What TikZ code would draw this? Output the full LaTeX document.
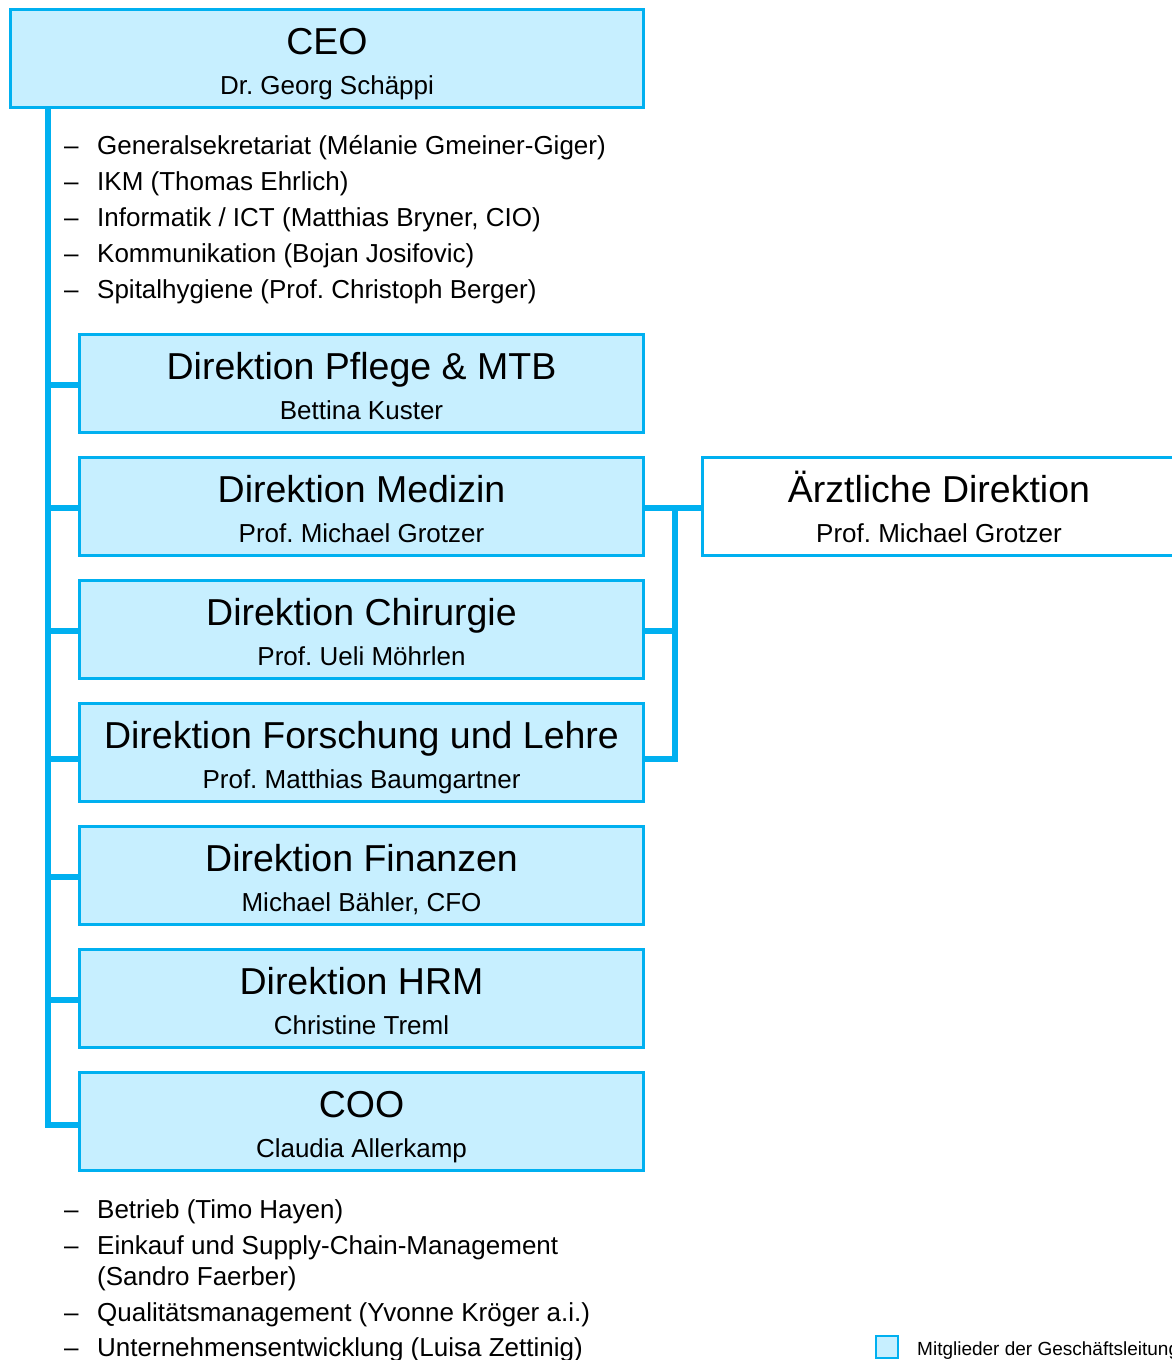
\documentclass[tikz,border=0pt]{standalone}
\usepackage{fontspec}
\setmainfont{Liberation Sans}
\frenchspacing
\definecolor{ksblue}{RGB}{0,176,240}
\definecolor{kslight}{RGB}{199,239,255}

\begin{document}
\begin{tikzpicture}[x=1pt,y=-1pt,
        glbox/.style={draw=ksblue,fill=kslight,line width=3.5pt,inner sep=0pt,minimum width=564pt,minimum height=98pt},
        conn/.style={draw=ksblue,line width=5.5pt},
        titletext/.style={anchor=base,inner sep=0pt,font=\fontsize{37.5}{45}\selectfont},
        nametext/.style={anchor=base,inner sep=0pt,font=\fontsize{26}{31}\selectfont},
        itemtext/.style={anchor=base west,inner sep=0pt,font=\fontsize{26}{31}\selectfont}]
    \useasboundingbox (0,0) rectangle (1171,1360);

    % CEO
    \node[glbox,minimum width=633pt] (ceo) at (327,58.5) {};
    \node[titletext] (ceo-t) at (327,54) {CEO};
    \node[nametext] (ceo-p) at (327,94) {Dr. Georg Schäppi};

    % Stabsstellen
    \foreach \t [count=\i] in {Generalsekretariat (Mélanie Gmeiner-Giger), IKM (Thomas Ehrlich),
            {Informatik / ICT (Matthias Bryner, CIO)}, Kommunikation (Bojan Josifovic),
            Spitalhygiene (Prof. Christoph Berger)} {
        \node[itemtext] (top-d\i) at (64,118+36*\i) {–};
        \node[itemtext] (top-\i) at (97,118+36*\i) {\t};
    }

    % Direktionen
    \foreach \n/\t/\p [count=\i] in {pfl/Direktion Pflege \& MTB/Bettina Kuster,
            med/Direktion Medizin/Prof. Michael Grotzer,
            chi/Direktion Chirurgie/Prof. Ueli Möhrlen,
            for/Direktion Forschung und Lehre/Prof. Matthias Baumgartner,
            fin/Direktion Finanzen/{Michael Bähler, CFO},
            hrm/Direktion HRM/Christine Treml,
            coo/COO/Claudia Allerkamp} {
        \node[glbox] (\n) at (361.5,260.5+123*\i) {};
        \node[titletext] (\n-t) at (361.5,256+123*\i) {\t};
        \node[nametext] (\n-p) at (361.5,296+123*\i) {\p};
    }

    \node[glbox,fill=white,minimum width=474pt] (aerzt) at (939.5,506.5) {};
    \node[titletext] (aerzt-t) at (939,502) {Ärztliche Direktion};
    \node[nametext] (aerzt-p) at (939,542) {Prof. Michael Grotzer};

    % Linien links
    \coordinate (trunk) at (48,108);
    \draw[conn] (trunk) |- ([yshift=-3.5pt]coo.west);
    \foreach \n/\dy in {pfl/-1.5pt,med/-1.5pt,chi/-1.5pt,for/-6.5pt,fin/-1.5pt,hrm/-1.5pt}
        \draw[conn] ([yshift=\dy]trunk |- \n.west) -- ([yshift=\dy]\n.west);

    % Linien rechts
    \coordinate (rbus) at (675,508);
    \draw[conn] ([yshift=-1.5pt]med.east) -- ([yshift=-1.5pt]aerzt.west);
    \draw[conn] (rbus) |- ([yshift=-6.5pt]for.east);
    \draw[conn] ([yshift=-1.5pt]chi.east) -- ([yshift=-1.5pt]rbus |- chi.east);

    % Bereiche COO
    \foreach \t/\y in {Betrieb (Timo Hayen)/1218, Einkauf und Supply-Chain-Management/1254,
            Qualitätsmanagement (Yvonne Kröger a.i.)/1321, Unternehmensentwicklung (Luisa Zettinig)/1356} {
        \node[itemtext] at (64,\y) {–};
        \node[itemtext] at (97,\y) {\t};
    }
    \node[itemtext] (coo-cont) at (97,1285) {(Sandro Faerber)};

    % Legende
    \node[draw=ksblue,fill=kslight,line width=2pt,inner sep=0pt,minimum size=22pt] (legbox) at (887,1347) {};
    \node[anchor=base west,inner sep=0pt,font=\fontsize{19}{23}\selectfont] (legtext) at (917,1355) {Mitglieder der Geschäftsleitung};
\end{tikzpicture}
\end{document}
